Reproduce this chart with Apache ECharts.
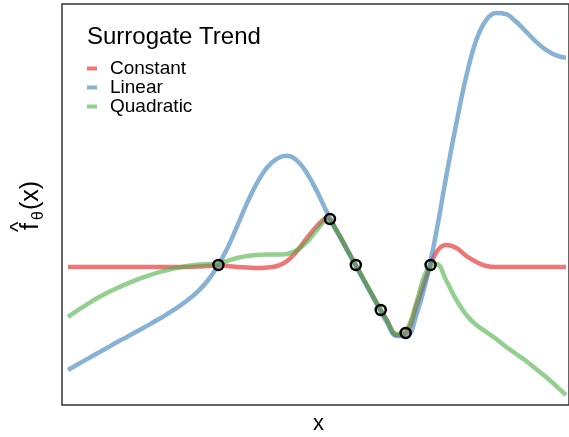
<!DOCTYPE html>
<html>
<head>
<meta charset="utf-8">
<script src="https://cdn.jsdelivr.net/npm/echarts@6/dist/echarts.min.js"></script>
<style>
    html, body { margin: 0; padding: 0; background: #fff; }
    #chart { width: 569px; height: 437px; }
</style>
</head>
<body>
<div id="chart"></div>
<script>
    // x positions of the curve samples
    var xs = [0, 2, 4, 6, 8, 10, 12, 14, 16, 18, 20, 22, 24, 26, 28, 30, 32, 34, 36, 38, 40,
        42, 44, 46, 48, 50, 52, 54, 56, 58, 60, 62, 64, 66, 68, 70, 72, 74, 76, 78, 80,
        82, 84, 86, 88, 90, 92, 94, 96, 98, 100];

    var constantY = [34.5, 34.5, 34.5, 34.5, 34.5, 34.5, 34.5, 34.5, 34.5, 34.5, 34.5,
        34.5, 34.5, 34.6, 34.75, 34.9, 34.75, 34.5, 34.4, 34.25, 34.4,
        34.75, 36, 38.5, 41.75, 44.75, 46.75, 43.5, 39, 34.5, 30,
        25.5, 21.25, 17.5, 18.25, 25, 32.25, 38.25, 40, 39.25, 37.25,
        35.75, 34.75, 34.5, 34.5, 34.5, 34.5, 34.5, 34.5, 34.5, 34.5];

    var linearY = [8.75, 10.2, 11.6, 13, 14.4, 15.8, 17.15, 18.5, 19.9, 21.3, 22.8,
        24.4, 26.2, 28.3, 31, 34.6, 39.2, 44.8, 50.6, 55.6, 59.4,
        61.6, 62.3, 61.1, 57.9, 53.4, 48.2, 43.3, 38.8, 34.25, 29.75,
        25.25, 20.75, 17.25, 17.25, 22.75, 31.5, 43.5, 57.5, 70.5, 82.3,
        91.3, 96.3, 98, 97.7, 95.8, 93.3, 90.8, 88.8, 87.4, 86.8];

    var quadraticY = [22, 23.7, 25.3, 26.8, 28.1, 29.3, 30.4, 31.4, 32.3, 33.1, 33.75,
        34.3, 34.75, 35.05, 35.2, 35.3, 36, 36.75, 37.25, 37.5, 37.6,
        37.6, 37.75, 38.75, 40.75, 43.75, 46.25, 43.5, 39, 34.5, 30,
        25.5, 21.25, 17.75, 18.75, 25.75, 33.5, 35.25, 31, 26.25, 22.5,
        20, 18.25, 16.5, 14.5, 12.75, 11, 9, 7, 4.75, 2.5];

    // observed design points
    var pointX = [30.2, 52.6, 57.8, 62.8, 67.8, 72.8];
    var pointY = [35, 46.5, 35, 23.75, 18, 35];

    var seriesNames = ['Constant', 'Linear', 'Quadratic'];
    var seriesColors = ['#E41A1C', '#377EB8', '#4DAF4A'];
    var seriesValues = [constantY, linearY, quadraticY];

    function pairs(xv, yv) {
        return xv.map(function (x, i) { return [x, yv[i]]; });
    }

    var font = 'Liberation Sans, Arial, sans-serif';

    var lineSeries = seriesNames.map(function (name, i) {
        return {
            name: name,
            type: 'line',
            data: pairs(xs, seriesValues[i]),
            smooth: 0.4,
            showSymbol: false,
            animation: false,
            color: seriesColors[i],
            itemStyle: {color: seriesColors[i], opacity: 0.6},
            lineStyle: {width: 4.5, color: seriesColors[i], opacity: 0.6},
            z: 2
        };
    });

    lineSeries.push({
        type: 'scatter',
        data: pairs(pointX, pointY),
        symbol: 'circle',
        symbolSize: 10,
        animation: false,
        itemStyle: {color: 'rgba(0,0,0,0)', borderColor: '#000', borderWidth: 2.5, opacity: 1},
        z: 5
    });

    // y label pieces, laid out along the text direction before rotation
    var yLabel = [
        {text: 'f', fontSize: 25, x: 2, y: -8.75},
        {text: '^', fontSize: 22, x: 0, y: -21},
        {text: '\u03b8', fontSize: 16, x: 12, y: -1.5},
        {text: '(x)', fontSize: 25, x: 22, y: -8.75}
    ];

    var chart = echarts.init(document.getElementById('chart'));
    chart.setOption({
        backgroundColor: '#fff',
        animation: false,
        title: {
            text: 'Surrogate Trend',
            left: 87,
            top: 25,
            padding: 0,
            textStyle: {fontSize: 24, fontWeight: 'normal', color: '#000', fontFamily: font}
        },
        legend: {
            data: seriesNames,
            orient: 'vertical',
            left: 87,
            top: 59,
            padding: 0,
            icon: 'rect',
            itemWidth: 10,
            itemHeight: 4,
            itemGap: 0,
            textStyle: {fontSize: 19, lineHeight: 18, color: '#000', fontFamily: font, padding: [0, 0, 0, 8]}
        },
        grid: {
            left: 62,
            right: -2,
            top: 4,
            bottom: 32,
            show: true,
            borderColor: '#333',
            borderWidth: 1.5,
            containLabel: false
        },
        xAxis: {
            type: 'value',
            min: -1.2,
            max: 100.6,
            axisLine: {show: false},
            axisTick: {show: false},
            axisLabel: {show: false},
            splitLine: {show: false}
        },
        yAxis: {
            type: 'value',
            min: 0,
            max: 100.25,
            axisLine: {show: false},
            axisTick: {show: false},
            axisLabel: {show: false},
            splitLine: {show: false}
        },
        graphic: [
            {
                type: 'text',
                left: 313,
                top: 413,
                style: {text: 'x', fontSize: 22, fill: '#000', fontFamily: font}
            },
            {
                type: 'group',
                x: 40,
                y: 232,
                rotation: Math.PI / 2,
                children: yLabel.map(function (p) {
                    return {
                        type: 'text',
                        x: p.x,
                        y: p.y,
                        style: {
                            text: p.text,
                            fontSize: p.fontSize,
                            fontFamily: font,
                            fill: '#000',
                            align: 'left',
                            verticalAlign: 'middle'
                        }
                    };
                })
            }
        ],
        series: lineSeries
    });
</script>
</body>
</html>
